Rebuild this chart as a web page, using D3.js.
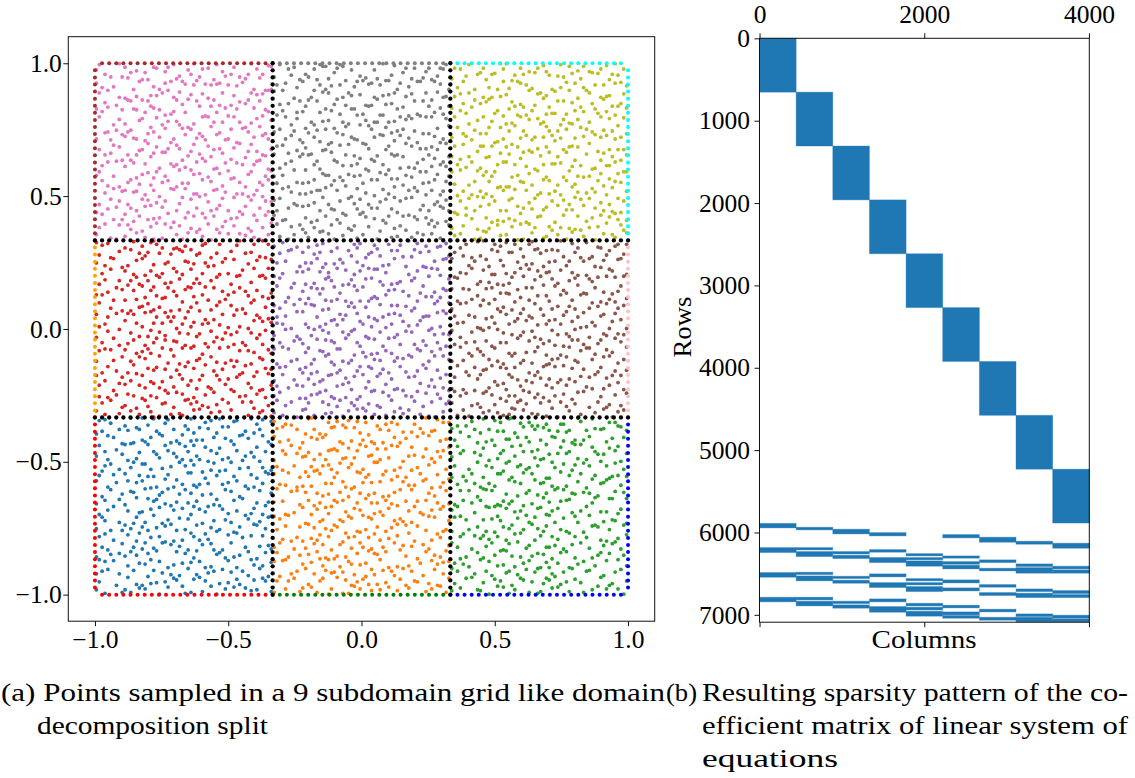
<!DOCTYPE html>
<html>
<head>
<meta charset="utf-8">
<script src="https://cdn.jsdelivr.net/npm/d3@7"></script>
<style>
  body { margin: 0; background: #fff; }
  svg { display: block; }
  text { font-family: "Liberation Serif", "Times New Roman", serif; fill: #000; }
</style>
</head>
<body>
<svg id="fig" width="1135" height="778"></svg>
<script>
// ---------------------------------------------------------------------------
// Collocation points of the 3x3 subdomain split.
// Each subdomain is stored as 20 horizontal bands (bottom to top); every token
// is one point: first char = x cell (0..61 in ALPHA), second = y offset in band.
// ---------------------------------------------------------------------------
const ALPHA = "0123456789abcdefghijklmnopqrstuvwxyzABCDEFGHIJKLMNOPQRSTUVWXYZ";

const ptsBottomLeft = [
"Q7 c2 M8 05 v1 u9 Z3 h6 31 G0 S4 p8 a5 x2 J6 92 E9 m0 U5 f7 B3",
"70 T6 j2 r8 C5 14 O1 y7 b9 K3 o4 W8 e1 s6 H2 X5 g0 A9 l3 N7",
"48 z2 F6 i0 V9 26 n4 R1 d7 L5 q2 Y0 83 w9 D4 k7 P6 t1 I8 03",
"j9 E1 68 Z6 r3 b2 N0 u5 37 W2 h4 A7 p0 S9 x6 19 K8 f5 T3 m7 C0",
"55 y1 H7 c8 O4 v6 02 M2 l9 U0 a3 G5 s8 e4 X7 z9 86 J1 i6 R8",
"t4 40 F0 Y5 n8 Q3 g1 B6 97 w0 L8 d3 k2 V4 23 o9 E7 q6 Z1 I0 h8",
"S6 x9 61 j4 D2 b7 N9 u1 15 m5 W6 C8 f9 r0 A1 P4 38 y5 K7 e0",
"92 H3 l5 z8 G1 s2 c4 T9 o7 04 v3 O6 a8 M0 i2 X4 52 q9 E5 U8 g6",
"27 B0 n0 Y7 w5 R5 e7 k9 L1 81 t6 F3 Z8 h1 J4 33 p4 V2 d0 Q9",
"x0 69 I6 b4 S1 m8 u7 D9 j6 45 W0 C3 r5 10 N4 y9 g3 K1 f2 T7 A6",
"87 o2 G7 s4 U3 a1 z5 H0 k5 M6 36 e9 P8 i8 w3 X0 02 q0 F1 Y4 l7",
"c6 R9 58 v8 B2 n5 J8 t3 L6 h9 20 V7 d5 Z4 x4 O0 93 m2 E3 p9",
"41 W5 y3 j0 Q2 g8 A4 u4 K6 s9 b8 D5 76 r1 T1 e6 I4 l1 08 N8 z1",
"65 C1 o0 H9 f4 X8 k3 S5 w7 a6 G4 p5 14 U1 i3 M3 x7 29 B8 Y6",
"q4 81 E0 v5 d9 R3 n2 Z0 h7 O2 35 t9 J0 c3 L9 y6 g7 F8 57 W3 j1",
"06 T5 m4 A2 u2 V0 b1 K4 s5 P1 42 e3 z6 D0 x1 G9 r9 98 I2 l8 Q6",
"73 f0 N2 y8 H5 k1 Z9 p2 C6 w1 18 S0 a9 M9 o8 E2 31 v7 i9 X1 U6",
"j7 B4 49 t0 W9 d1 L3 n9 c0 R6 q1 67 F7 x3 90 O9 g4 J6 Y2 s3 z4 h2",
"24 e8 K9 m1 V6 A8 u0 P0 b5 T2 l4 86 r6 D7 w6 I9 f6 01 Q4 y2 G2",
"53 k8 Z5 o3 E6 H8 i1 S8 v0 c9 37 M5 x8 N6 p7 a0 U2 16 g9 C4 W7"
];
const ptsBottomMid = [
"H4 o1 93 L7 d8 u6 Y2 02 s9 B5 j0 R3 f2 y4 W9 k6 46 E8 q1 T6 a7",
"78 V0 g5 D3 x1 N5 m9 15 c1 I7 t4 Z8 p6 A1 r0 55 O4 h8 S2 v7 K0",
"20 e3 U8 l5 F6 z2 b9 Q1 86 o5 J9 w0 X3 i7 G1 s2 63 M6 y8 k4 C7",
"n1 P5 07 X6 u3 E0 a4 49 T8 h2 B9 q7 L2 d6 Z7 38 w5 j9 H1 r4 V4",
"94 K3 g0 z6 R8 c5 O0 x9 m3 D8 17 U4 i1 t6 W2 f8 A5 52 l0 Y9 p2",
"S1 e7 71 v3 J5 b2 G8 k0 o9 Q6 28 y1 M4 h6 C3 u8 I0 03 r2 Z5 n6",
"60 W4 q4 E3 a0 L9 x4 d3 T1 s5 84 H6 j5 B1 N0 g7 z8 V8 32 f1 p9",
"i4 Y3 13 O7 w3 D1 m6 F5 l8 R2 c9 96 u0 K8 t1 A6 47 X1 e5 H9 k2",
"59 S8 r6 b0 G3 y5 M1 o2 Z3 h4 25 v9 I5 q8 C9 x7 J2 08 n4 U7 g2",
"z1 B3 T5 j1 f6 40 P2 s7 E7 a8 W6 p3 72 L4 k9 d0 N9 u5 Q0 i8 X9",
"91 F2 c6 m4 V3 y3 O5 g3 35 H0 w8 e0 R6 l6 A3 04 t3 Z2 D6 o6 K5",
"n5 I8 19 x2 U1 b5 M8 q0 S4 h1 66 C0 u4 j3 Y7 87 z4 G5 f4 E1 r9",
"43 L3 d2 v6 W1 p1 J7 a2 T0 k5 s1 B7 81 X6 i5 N3 o7 24 Q8 y6 F9",
"g6 R0 06 t8 H3 e9 C5 w2 Z0 m7 57 l2 D9 x5 P6 c3 K2 92 u7 V5 b8",
"30 M0 j6 q3 A9 f0 Y1 r7 G0 n8 O3 h5 75 z9 S6 d4 I3 14 v1 U9 k1",
"W5 p4 48 i2 E4 y7 T3 b6 J0 s4 L6 89 a5 x6 B2 o3 Q5 01 g8 N7 e2",
"68 F8 t2 H7 c0 X2 m2 R4 u9 k3 32 D4 w7 Z6 l4 A4 95 j2 V1 q5 M6",
"d7 K6 22 o0 C1 z0 S9 f5 G7 r3 54 y2 O8 h7 I1 v4 08 W3 n2 Y5 a1",
"86 Q2 i0 s8 U5 b1 E5 x0 M3 l9 17 J3 p8 g1 T4 e6 B6 39 u2 P7 k8",
"42 N2 c8 w4 R9 j4 Z4 q6 D2 m5 61 H2 t5 V7 d9 A0 y9 X4 o1 F4 05"
];
const ptsBottomRight = [
"k1 S6 04 B8 v3 g9 Y0 m5 37 K2 z7 a4 P9 u1 F3 95 W6 i8 r2 N5 d0",
"79 E4 p6 U2 b3 x8 H7 12 l0 Q9 s4 C1 f7 Z5 o8 J3 58 w2 h5 T0 y6",
"26 L6 j4 A0 q8 e1 V5 n2 G9 c6 R1 83 t5 M7 09 z3 X8 k6 D5 u9",
"i3 O2 61 y0 I4 d7 W9 r8 B5 44 g2 S8 m1 x6 K7 a9 F0 15 Z2 p5 v0",
"97 N1 h9 T6 l3 E8 u6 30 P4 b1 s3 C7 o2 Y4 j9 H1 z0 52 f4 Q7 w5",
"08 U7 c4 A5 x3 k7 M2 q2 G6 n9 71 X1 e8 V9 r5 J8 y3 23 i0 R5 D1",
"b6 S0 48 m8 L4 t1 Z7 g5 B2 o9 86 F9 v6 d2 W3 H5 j1 Q1 35 a3 z5",
"63 P6 s9 C3 u4 i6 O8 x7 E1 k4 01 T3 f0 K0 p3 Y8 l8 N7 w1 96 c1",
"y9 H8 17 n6 D6 e5 V3 r1 M9 h3 A1 q9 54 U4 g8 I1 Z0 38 t7 R2 b4",
"82 G2 j7 x0 W1 o4 J4 d8 S3 v8 29 B7 m3 c9 Q3 z4 X6 f9 L9 05 u7",
"46 E6 k2 U8 p0 a6 N3 i5 T8 s2 F7 y4 73 h0 C5 Z8 l5 O9 w9 g1 11",
"r7 K5 90 D8 b9 j3 Y5 e7 H3 q4 P1 x4 37 M4 n1 V6 u2 A8 67 c8 G4",
"t9 R6 24 o5 I7 f2 S9 k9 B0 w6 X3 d5 58 L0 m7 z2 E2 a1 Q5 85 v5",
"02 W4 g6 s6 F4 y1 O4 i9 T1 b2 J6 l2 U3 x1 C8 43 p7 h6 N0 Z3 76",
"15 D7 u5 H6 c5 V8 n4 r3 A3 j8 M5 e3 Y1 61 q1 K8 z9 G0 o6 99 S5",
"a7 Q0 39 v2 L2 t4 I3 k0 Z9 d1 P8 w3 B9 g3 E9 m6 X0 05 y8 R8 h9",
"80 F1 s1 O1 b5 x9 T5 f8 C6 l7 J9 p1 27 H9 u3 W7 i2 N6 42 o8 V2",
"k5 U6 68 z8 D3 e4 S2 q7 A7 j5 G1 r2 91 M8 c2 Y7 v4 14 K4 n7 H4",
"33 E3 g4 X9 w8 a2 R7 i4 B4 m2 O7 t6 Q6 86 d6 L5 y5 Z5 p9 07 F5",
"50 I9 h4 V4 s0 b8 N8 u0 C2 o3 W0 20 k8 J5 x2 T4 f6 D2 l9 75 r4"
];
const ptsMidLeft = [
"f3 R2 07 H6 y8 m1 V5 33 c7 N0 t4 A9 j6 Z1 q3 E5 84 W7 k0 u2 L8",
"59 D1 a3 S7 o6 x5 G4 h9 T0 r1 26 B3 z7 e0 K6 91 n5 Y3 i2 P7 v9",
"13 M9 w0 d4 U6 l2 I0 s8 F8 b6 X2 g1 42 C5 p7 Q4 u6 75 O3 j4 y2",
"88 Z6 k8 E2 r4 60 J7 a7 V0 o0 L1 h3 z2 R8 w6 16 D4 f6 S3 m3 W1",
"31 G7 c1 q5 N5 t8 A2 g7 Y9 07 x1 H2 j0 T6 e9 O8 u3 95 B7 n0 K3",
"i5 U1 47 s3 F2 b0 X5 l6 C9 y5 P0 d9 72 M7 v7 k3 I4 o4 20 Z4 Q8",
"03 W5 r9 E8 h6 A6 z4 J1 m9 S0 c3 64 V7 p1 G2 f8 L4 w2 98 t0 N3",
"56 R5 a6 x8 D9 j2 O5 q6 15 K9 u8 B1 g4 Y6 e2 H8 i7 37 T3 n8 Z2",
"81 F5 o7 C3 s5 k4 M2 y0 I8 b3 W2 l9 24 U9 v1 d7 P4 h1 Q1 69 r6",
"00 X8 t5 G0 m6 E7 z1 j8 S5 f1 A4 o2 J5 89 c5 N6 w4 V3 i1 L3 47",
"35 T9 g2 q8 B5 e6 R0 x2 H4 u5 12 K1 n6 Z7 a9 O2 y7 D6 k6 W8 s0",
"77 M5 d6 I6 p3 b7 V2 l3 F0 43 j9 C0 w9 Y1 r3 h8 U5 o8 06 Q7 v2",
"19 E1 k1 S9 t1 A0 z9 G6 c0 L6 90 x4 m4 P2 f4 X4 i8 53 N1 q0 g5",
"62 H0 u0 R7 a2 B8 e3 Y4 o5 J3 s7 y6 28 D2 n4 W6 h5 T2 08 l7 K8",
"94 Z0 p6 F6 b9 v4 I2 j3 M1 r2 41 C7 d3 U3 x6 g8 Q2 k7 O6 76 w7",
"10 S2 f0 V9 m8 t6 E4 c4 L0 35 i4 z6 A1 N9 q2 G8 y1 84 X7 e8 o1",
"57 K2 j5 T8 u1 h0 P6 a5 B2 x7 O0 r8 22 W0 d1 H1 n2 Y8 l0 s4 99",
"04 D0 g9 R3 k2 y3 F1 b1 M8 p5 69 U7 w5 I5 e7 Z8 o3 31 C4 v6 J9",
"87 Q5 m5 A5 c9 t9 V1 i6 G5 x9 S6 13 f5 L7 z3 q4 X0 h2 E0 50 u7",
"46 N4 r0 B4 a1 j7 H5 s1 W9 d8 Y5 07 l5 T5 v3 O9 k9 g3 24 C6 n1"
];
const ptsCenter = [
"e2 P3 05 L8 w7 i4 X6 80 o1 D2 t9 a8 S1 G6 k5 z3 U0 32 q7 J4 b9",
"67 F9 m2 Y5 c6 s3 B1 v0 N8 h7 Q2 19 j4 T7 x5 I0 43 n9 A3 r6 Z8",
"28 W1 d5 K4 u3 g8 O9 l1 E4 y9 R7 b1 91 C8 p2 M3 f6 V6 04 k3 t0",
"53 H2 z0 S5 q9 a5 J0 o7 X3 i0 D7 15 w3 P8 e7 Z0 m5 86 G1 r1 U4",
"c3 N6 38 x0 B9 k8 T2 h2 72 L5 s6 F3 v8 Y8 01 j7 A6 d9 W4 g0 p4",
"94 Q9 n3 E0 y5 u7 I7 b6 O2 t2 K1 47 a0 V3 f1 C4 l9 26 R5 x7 m0",
"10 M8 i9 S3 r4 G3 z5 e5 X9 63 H7 q1 d0 Z5 o3 B4 w8 k2 J6 85 U9",
"39 D5 j1 T4 g5 v3 A2 c8 P5 s0 W7 h4 07 L0 y1 O7 m7 F2 57 b3 n7",
"76 Y0 p9 I2 a3 x9 E9 l4 R1 u0 C0 f8 98 N2 k6 Q6 i7 24 z8 V4 t4",
"02 U3 q3 G0 e9 r7 K7 w1 S8 j5 H3 d2 B6 o6 Z3 49 h8 M6 s9 X4 81",
"60 J8 b5 F5 y2 g2 T0 c1 O4 v5 A9 m4 35 D1 i5 W2 u8 P9 k9 16 L3",
"89 Q3 x3 E6 l0 t7 Y7 n6 R4 a9 C3 z1 13 I5 p5 V8 f3 o0 G7 44 S4",
"23 B7 d7 N3 h1 w4 K5 s4 U8 j2 X0 e6 77 H6 r9 M0 q5 Z9 b8 06 F6",
"55 T6 k1 z6 A4 g9 O1 y4 D8 c4 L7 u1 93 i2 W5 m3 V1 40 p1 R6 x1",
"18 J2 f5 C9 n0 s8 E3 l7 Y3 a2 P0 o9 Q8 v7 h5 G4 66 t3 X5 d6 U1",
"71 S9 j8 M4 q0 b0 I3 w6 B3 e1 Z6 k4 27 F0 r5 N7 y7 i6 H1 09",
"84 D3 c7 V7 u5 g4 L1 x8 A7 m8 T8 p6 32 R9 s1 O5 a4 z7 W0 h9 j3",
"46 K0 o4 E2 t5 f9 Y9 l3 G9 b4 Q0 d4 90 U6 v1 X8 i3 C1 n8 14",
"25 N9 r2 H8 k7 y6 B2 w0 S7 e4 J1 q8 69 M1 a6 Z2 g6 P6 x4 58 F8",
"03 I4 h6 W3 m1 c2 V2 s5 E5 z4 R3 u6 82 O6 j9 A0 t1 L9 f4 Y6 37"
];
const ptsMidRight = [
"61 J3 i2 Y8 s4 b5 F7 m9 U0 x1 O5 d7 22 W6 p8 B0 k3 R9 48 g5 u3",
"95 E2 n7 T4 a1 z0 H5 q5 C7 j8 M1 v6 06 X3 f4 P7 o9 S1 73 l0 y8",
"34 Z7 e5 K9 t2 h1 A4 r8 V5 c9 G0 w2 57 I8 m4 Q3 b7 D6 19 u6 k4",
"80 N2 x6 B9 g6 p0 L4 i8 Y1 o5 T6 s9 41 E6 d3 R2 z3 W9 j1 02",
"67 H0 l5 U7 a8 v4 C2 q1 O8 f0 J6 y3 15 S4 n2 F3 k8 X7 93 t7 M5",
"28 G5 b3 Z3 w7 e8 P1 j5 A7 r0 V2 h6 86 K4 x9 D8 u1 Q6 c4 51 m6",
"03 T9 p4 I2 i0 s1 E8 z5 N5 d5 B6 l9 79 W1 o1 Y5 g3 H4 44 y0 R8",
"39 L8 f8 C0 u9 k2 U3 a4 S6 x0 F9 q3 62 M8 t4 O1 m2 Z9 b0 97 J5",
"12 X5 j4 A1 w3 c6 K2 n9 V9 r6 G7 e0 85 Q7 h4 D0 v8 P3 y6 54 I7",
"76 R4 o2 W4 i5 z8 B3 t0 H9 b8 Y3 l3 30 E4 p6 S2 g9 M0 s7 08 F1",
"47 N7 d1 T0 y9 k5 C5 q9 J1 f6 O3 x5 91 U8 m8 Z0 a0 L2 u4 26 G8",
"83 V7 h9 E9 e3 r4 A0 w5 R6 j6 K8 o7 14 I3 c1 X0 s2 D5 n1 65 Q4",
"59 B5 v2 P5 l1 g2 S8 z2 Y6 a6 H2 p2 38 W3 t8 F5 i4 N9 d8 02 M3",
"21 Z4 k9 G2 x7 b2 U9 u7 L9 m0 C8 r2 73 T3 f3 J8 y1 Q0 o5 97 V0",
"64 E0 q6 O6 i9 c5 R1 j0 A8 w9 I9 n4 05 X8 h0 D3 s6 K0 e6 45 W2",
"90 Y9 g0 M6 z6 p9 F4 t5 S9 d2 B1 l8 27 H7 v9 N3 a3 V8 k1 18 P8",
"33 C6 u5 I0 m3 e1 T7 x3 Q9 o8 G3 b6 78 Z1 r7 L0 j2 U5 f1 52 y4",
"09 W8 n5 K6 d0 s3 O0 h7 E1 y5 A6 i1 61 R7 w0 X9 c8 F6 q2 86 M9",
"42 J0 t9 Y4 l6 a2 D1 v5 S3 k6 N1 x8 16 B8 p1 T8 g7 H6 z9 70 e9",
"55 V3 b9 G6 o0 r5 Z5 m5 C9 u0 P2 j7 98 I1 f5 W5 h3 Q1 s8 31 L7"
];
const ptsTopLeft = [
"a4 T3 71 K7 u1 e8 Y6 n2 E0 z9 Q5 h3 06 O7 s6 B4 k1 V1 52 w8 H8",
"38 G2 c2 Z9 q4 l9 M6 x3 S0 b7 I5 t6 87 D8 g0 W4 o8 R3 j5 14 A2",
"93 P9 f7 J1 v5 i3 U2 y7 C5 m5 X8 d1 29 L4 r0 F7 a9 N5 k4 63 T8",
"45 E3 p0 Y2 h8 w1 K3 n7 B0 s3 Q8 e3 77 H9 z6 O2 j9 V6 c6 01 G5",
"10 S5 u8 I7 b0 o4 X4 g6 R9 x6 D3 l2 56 Z3 t1 M8 m9 A9 i5 84 W9",
"68 C1 k6 T1 y2 r7 F6 e5 N2 q8 J4 a6 33 U6 d4 G7 v8 P2 h1 95 z2",
"27 L9 s0 V5 j2 c8 B8 u4 Y8 n5 I1 f3 80 O5 p7 W2 w4 E6 b5 41 Q0",
"03 H5 l7 M0 x9 g4 S7 k0 A5 t9 R4 o2 62 D1 i6 Z8 y4 K8 e0 17 X2",
"79 F0 q6 U9 m1 a3 C9 z8 J7 h6 P5 s5 48 G1 r3 Y0 d7 N7 v2 24 T5",
"90 W6 e6 B2 u0 j4 E4 w5 Q3 c0 L1 n9 36 X5 k8 I8 b6 V0 o9 58 A7",
"12 R0 i9 O9 x0 p3 H3 f1 S8 l5 D6 y8 85 M4 t3 U0 g2 F2 s7 67 Z2",
"53 K4 a7 Y4 q0 v9 B7 h2 T6 r4 J3 d5 04 C3 z5 N0 m6 W8 e4 99 G9",
"31 E8 o6 V8 c4 k2 P6 u6 L5 b2 X0 i0 74 A0 w7 Q7 j7 H1 x5 42 R2",
"86 I3 s4 Z5 n0 f5 F3 y1 O3 g7 S2 p4 19 M9 l8 D9 t0 U7 a1 60 B9",
"25 T9 d8 G4 m7 r5 W0 q2 C0 e7 Y5 v4 97 J9 h4 K0 o1 X7 k9 08 N8",
"72 Q4 j1 H2 w9 b8 E1 s8 R8 u3 A1 i7 40 V7 c7 L2 z7 F8 g8 35 O6",
"49 X9 n6 B5 t7 a0 M3 x4 I6 l3 U4 e2 16 S6 p9 D0 j3 Y9 r1 81 W5",
"07 G6 v6 Z0 k3 y5 P8 f9 K5 o7 C6 d0 63 N4 q9 H7 m0 T0 u9 22 E5",
"94 R7 c9 J5 i1 h9 V3 s2 A4 z0 O4 g1 37 W7 x7 L7 b3 Q2 t5 54 F1",
"18 U3 p5 D4 l4 e1 Y7 w2 G8 r8 M5 a5 89 S9 k5 B3 o0 Z6 y9 02 I0"
];
const ptsTopMid = [
"76 F3 l1 W2 v6 c3 O8 j7 X0 t2 H4 b8 24 Q6 o5 A1 g9 T7 y0 51 M3",
"18 S8 e4 D9 r1 k7 U5 x5 G3 n9 Z7 a2 65 K1 s6 I6 q3 V9 h0 97 B0",
"43 N6 z4 C2 i7 u9 Y1 m3 R5 d0 L8 w6 08 E7 p8 T2 f2 O3 b5 32 J7",
"89 H1 t5 W8 g3 a8 P4 y6 A6 o0 X6 l4 56 S3 c9 F5 v1 Z3 k5 13 Q9",
"27 K7 q7 B3 j0 e2 M8 s1 V3 h8 D6 r9 71 U0 x0 G8 n4 I4 u6 05 Y5",
"92 R1 b2 O5 w3 i9 E2 z0 N9 m6 T6 f6 38 L6 t8 C7 d4 X5 g6 64 W1",
"50 A8 o7 Y6 k2 p1 H9 c5 Q4 y8 J2 a4 14 S5 l7 G0 v4 U8 e8 85 F9",
"33 V4 s2 D4 x8 h5 Z2 u3 K3 b9 P7 q4 79 M1 j3 E9 n1 R7 i3 02 B6",
"69 I1 w0 T3 f9 r4 L2 g0 X8 o4 C5 t6 46 W5 e5 N1 z9 Y3 m8 21 O7",
"07 H6 k9 F7 a7 y1 U2 d7 A5 s5 Q1 l0 94 G5 c6 Z4 p6 S6 u2 58 J4",
"81 D2 i2 V2 q8 n7 M6 x3 E6 h1 Y9 b4 37 R3 v9 K9 w8 T5 j8 16 P3",
"44 X4 o9 B9 t3 e6 I8 z6 O0 k0 G2 r6 68 U7 g1 L5 a0 W0 s4 93 C8",
"25 N3 m1 Q0 y5 c1 S0 p8 H3 x9 D7 i5 02 Z9 l6 F1 f4 V6 b6 73 J5",
"60 T9 u0 A3 h4 w5 K6 j5 R9 o3 E3 d3 49 M7 z3 Y7 q1 I9 e0 87 G4",
"11 O2 r8 W9 n2 a5 C1 t1 L0 s8 U4 g4 84 B1 v2 X2 k6 P0 i8 36 H8",
"97 F4 l3 Z1 c8 x1 Q7 y2 N7 m9 J0 b1 23 S1 p2 D3 w2 T8 f7 54 A9",
"39 K2 e9 G6 u4 h7 V7 o1 E4 j6 X1 q6 70 R6 d1 M5 z1 C3 r3 08 Y2",
"82 I7 k4 U9 i0 t9 B5 s3 W6 a9 H0 n5 15 O9 x6 L3 g5 Z0 y7 47 P9",
"04 Q3 v0 D0 f1 c4 T1 l9 A2 w3 M2 p0 66 E0 b7 V5 j2 J9 u5 91 F6",
"53 S4 n8 X3 g8 r2 G7 z2 K4 e3 N4 i6 28 Y8 o6 C9 h6 W4 m4 75 R0"
];
const ptsTopRight = [
"37 U6 h5 E1 x4 n0 Z8 c9 K4 s8 B6 w2 81 O0 j6 V3 p1 G9 a2 15 R7",
"92 J1 t4 X7 d3 r8 C4 l5 S9 g7 H2 z1 46 M4 b0 Y1 y5 F3 o8 03 P5",
"58 Q8 e0 A0 u6 k4 W3 i1 D8 v7 N5 c5 29 T6 m2 I7 q0 Z2 g2 74 L1",
"11 G4 s5 O6 a8 p6 V0 x7 R3 h3 B9 o0 83 E4 j3 X1 n8 K9 w4 56 U2",
"67 Y4 l7 H8 f4 z4 M7 e9 T0 r2 F0 b8 34 W7 t7 D5 k5 Q2 d0 99 J6",
"20 S1 c2 I4 y2 q6 A5 m7 Z5 u1 N8 i6 71 C1 g9 U9 v3 L3 a5 45 O4",
"86 E7 o6 V6 j0 w8 G0 d6 P7 k0 X5 s2 13 H3 y7 R1 h0 B2 p5 62 T9",
"39 M2 b3 Z7 x1 e2 K1 r5 D1 n3 Y7 f7 98 Q5 l1 I2 u8 W5 c7 07 F8",
"52 A6 i8 T4 g5 t0 O1 z6 C7 q3 S4 a1 25 N0 m5 V8 w5 J4 j8 78 G3",
"04 X0 v5 H0 p9 o2 E9 h8 R8 c3 U4 y9 64 L7 k7 B4 d4 Z6 s9 31 Q0",
"90 F5 r1 W2 a6 n5 M9 j5 Y2 x5 I5 e6 48 T2 u3 G6 b6 P0 l8 16 D2",
"73 O9 g1 C5 s3 z8 K7 q8 V4 i4 Q6 t6 06 A2 f0 S8 o5 H5 w6 57 X6",
"27 N2 y3 Z0 h7 d7 E5 p3 L5 k3 B3 m9 84 W9 c0 J7 x8 R4 a0 40 U3",
"61 I6 u7 D6 l2 b9 T7 w3 G1 o9 Y8 j1 19 M3 v1 F2 e4 Q9 r6 95 C0",
"09 V1 n1 S5 g6 x2 A3 s6 O8 f3 H6 z3 53 E2 q1 Z9 k8 K5 i0 36 P3",
"44 R9 t2 B7 d9 p0 X4 m1 J0 y0 U1 c6 70 N4 l6 G5 a4 W1 o3 88 D7",
"12 Q1 h2 F9 w0 r9 I0 e1 S2 b1 M6 v6 35 Y5 j4 A8 x3 T3 u5 66 L9",
"80 H7 k1 Z4 g0 i9 C2 o7 V7 q5 K2 d2 22 O5 z0 E8 s1 R5 n9 49 X8",
"55 G8 a9 D4 t9 l0 W6 y6 P8 m6 B5 f8 97 T1 e7 J2 p7 U7 c1 02 N9",
"33 S7 x0 I1 b4 u4 Y3 j9 F6 h9 Q3 r0 68 V9 o4 M0 w7 C8 i3 14 K6"
];

// Subdomains in order: bottom row (left→right), middle row, top row
const subdomainPoints = [ptsBottomLeft, ptsBottomMid, ptsBottomRight,
                         ptsMidLeft, ptsCenter, ptsMidRight,
                         ptsTopLeft, ptsTopMid, ptsTopRight];
const subdomainColors = ["#1f77b4", "#ff7f0e", "#2ca02c", "#d62728", "#9467bd",
                         "#8c564b", "#e377c2", "#7f7f7f", "#bcbd22"];

// Boundary / interface nodes: 76 equally spaced nodes per side of [-1,1]^2
const nodesPerSide = 76;
const interfaceLines = [-1 / 3, 1 / 3];
// Dirichlet boundary colours per outer edge, listed along the edge (low → high)
const edgeColors = {
  bottom: ["#ff0000", "#008000", "#0000ff"],   // red, green, blue
  right:  ["#0000ff", "#ffc0cb", "#00ffff"],   // blue, pink, cyan
  top:    ["#a52a2a", "#808080", "#00ffff"],   // brown, gray, cyan
  left:   ["#ff0000", "#ffa500", "#a52a2a"]    // red, orange, brown
};
const xTicksA = [-1.0, -0.5, 0.0, 0.5, 1.0];
const yTicksA = [-1.0, -0.5, 0.0, 0.5, 1.0];

// ---------------------------------------------------------------------------
// Sparsity pattern of the coefficient matrix
// ---------------------------------------------------------------------------
const nRows = 7090;
const nCols = 4005;
const colBlockStart = [0, 445, 890, 1335, 1780, 2225, 2670, 3115, 3560];
const colBlockSize = 445;
// diagonal (collocation) blocks: [firstRow, endRow) per subdomain
const diagRows = [[0, 654], [654, 1308], [1308, 1962], [1962, 2616], [2616, 3270],
                  [3270, 3924], [3924, 4578], [4578, 5232], [5232, 5886]];
// interface coupling rows: [column block, firstRow, endRow]
const couplingRows = [
  [0,5890,5945],[1,5937,5969],[2,5961,6018],[3,6002,6042],[5,6026,6066],[6,6058,6119],[7,6107,6143],[8,6131,6192],
  [0,6184,6244],[1,6184,6212],[1,6232,6293],[2,6232,6261],[2,6277,6317],[3,6208,6240],[3,6305,6366],
  [4,6257,6285],[4,6305,6333],[4,6346,6410],[5,6285,6313],[5,6354,6386],[5,6398,6443],
  [6,6333,6366],[6,6435,6467],[7,6382,6414],[7,6427,6495],[8,6410,6443],[8,6455,6495],
  [0,6487,6544],[1,6483,6511],[1,6528,6588],[2,6532,6560],[2,6580,6617],[3,6503,6540],[3,6609,6669],
  [4,6560,6588],[4,6609,6637],[4,6657,6718],[5,6576,6613],[5,6673,6710],
  [6,6633,6665],[6,6730,6766],[7,6686,6718],[7,6738,6791],[8,6706,6742],[8,6754,6791],
  [0,6787,6843],[1,6787,6819],[1,6835,6892],[2,6835,6864],[2,6880,6920],[3,6807,6843],[3,6900,6969],
  [4,6860,6892],[4,6908,6941],[4,6957,7017],[5,6884,6916],[5,6965,7001],[5,7009,7042],
  [6,6932,6965],[6,7030,7066],[7,6989,7021],[7,7030,7086],[8,7005,7042],[8,7050,7086]
];
const colTicks = [0, 2000, 4000];
const rowTicks = [0, 1000, 2000, 3000, 4000, 5000, 6000, 7000];

// ---------------------------------------------------------------------------
const svg = d3.select("#fig");
const TICK_FONT = 25.5;
const FONT = 25;

// ======================= (a) scatter of sampled points ======================
const xA = d3.scaleLinear().domain([-1.1, 1.1]).range([68.3, 654.7]);
const yA = d3.scaleLinear().domain([-1.1, 1.1]).range([621.2, 36.7]);
const gA = svg.append("g");

const interior = [];
subdomainPoints.forEach((bands, r) => {
  const x0 = -1 + (r % 3) * 2 / 3, y0 = -1 + Math.floor(r / 3) * 2 / 3;
  bands.forEach((line, b) => {
    line.split(" ").forEach(tok => {
      const u = (ALPHA.indexOf(tok[0]) + 0.5) / ALPHA.length;
      const v = (b + (+tok[1] + 0.5) / 10) / bands.length;
      interior.push({ x: x0 + u * 2 / 3, y: y0 + v * 2 / 3, c: subdomainColors[r] });
    });
  });
});

gA.append("g").selectAll("circle").data(interior).join("circle")
  .attr("cx", d => xA(d.x)).attr("cy", d => yA(d.y)).attr("r", 1.9)
  .attr("fill", d => d.c);

const step = 2 / (nodesPerSide - 1);
const boundary = [];
for (let k = 1; k < nodesPerSide - 1; k++) {
  const t = -1 + k * step;
  const seg = t < -1 / 3 - 1e-9 ? 0 : (t < 1 / 3 - 1e-9 ? 1 : 2);
  boundary.push({ x: t, y: -1, c: edgeColors.bottom[seg] });
  boundary.push({ x: t, y: 1, c: edgeColors.top[seg] });
  boundary.push({ x: -1, y: t, c: edgeColors.left[seg] });
  boundary.push({ x: 1, y: t, c: edgeColors.right[seg] });
}
gA.append("g").selectAll("circle").data(boundary).join("circle")
  .attr("cx", d => xA(d.x)).attr("cy", d => yA(d.y)).attr("r", 2)
  .attr("fill", d => d.c);

const iface = [];
for (let k = 0; k < nodesPerSide; k++) {
  const t = -1 + k * step;
  interfaceLines.forEach(s => { iface.push({ x: s, y: t }); iface.push({ x: t, y: s }); });
}
gA.append("g").selectAll("circle").data(iface).join("circle")
  .attr("cx", d => xA(d.x)).attr("cy", d => yA(d.y)).attr("r", 2.15)
  .attr("fill", "#000");

gA.append("rect").attr("x", xA(-1.1)).attr("y", yA(1.1))
  .attr("width", xA(1.1) - xA(-1.1)).attr("height", yA(-1.1) - yA(1.1))
  .attr("fill", "none").attr("stroke", "#111").attr("stroke-width", 1);

const fmtA = d3.format(".1f");
gA.append("g").attr("transform", `translate(0,${yA(-1.1)})`)
  .call(d3.axisBottom(xA).tickValues(xTicksA).tickFormat(fmtA).tickSize(5).tickPadding(3.5));
gA.append("g").attr("transform", `translate(${xA(-1.1)},0)`)
  .call(d3.axisLeft(yA).tickValues(yTicksA).tickFormat(fmtA).tickSize(5).tickPadding(1.5));

// ======================= (b) sparsity pattern ===============================
const xB = d3.scaleLinear().domain([-0.5, nCols - 0.5]).range([759.5, 1089.3]);
const yB = d3.scaleLinear().domain([-0.5, nRows - 0.5]).range([38.3, 622.2]);
const gB = svg.append("g");
const blue = "#1f77b4";

const cells = diagRows.map((r, i) => ({ c0: colBlockStart[i], c1: colBlockStart[i] + colBlockSize, r0: r[0], r1: r[1] }))
  .concat(couplingRows.map(d => ({ c0: colBlockStart[d[0]], c1: colBlockStart[d[0]] + colBlockSize, r0: d[1], r1: d[2] })));

gB.append("g").selectAll("rect").data(cells).join("rect")
  .attr("x", d => xB(d.c0 - 0.5)).attr("y", d => yB(d.r0 - 0.5))
  .attr("width", d => xB(d.c1 - 0.5) - xB(d.c0 - 0.5))
  .attr("height", d => yB(d.r1 - 0.5) - yB(d.r0 - 0.5))
  .attr("fill", blue).attr("stroke", "rgba(31,119,180,0.35)").attr("stroke-width", 1);

gB.append("rect").attr("x", xB(-0.5)).attr("y", yB(-0.5))
  .attr("width", xB(nCols - 0.5) - xB(-0.5)).attr("height", yB(nRows - 0.5) - yB(-0.5))
  .attr("fill", "none").attr("stroke", "#111").attr("stroke-width", 1);

gB.append("g").attr("transform", `translate(0,${yB(-0.5)})`)
  .call(d3.axisTop(xB).tickValues(colTicks).tickFormat(d3.format("d")).tickSize(5).tickPadding(10));
gB.append("g").attr("transform", `translate(0,${yB(nRows - 0.5)})`)
  .call(d3.axisBottom(xB).tickValues(colTicks).tickFormat("").tickSize(5));
gB.append("g").attr("transform", `translate(${xB(-0.5)},0)`)
  .call(d3.axisLeft(yB).tickValues(rowTicks).tickFormat(d3.format("d")).tickSize(5).tickPadding(4.5));

// common axis styling
svg.selectAll(".domain").remove();
svg.selectAll(".tick line").attr("stroke", "#111").attr("stroke-width", 1);
svg.selectAll(".tick text").attr("font-family", null).style("font-size", TICK_FONT + "px").attr("fill", "#000");

gB.append("text").attr("transform", "translate(691,327) rotate(-90)")
  .attr("text-anchor", "middle").attr("textLength", 61).attr("lengthAdjust", "spacingAndGlyphs")
  .style("font-size", FONT + "px").text("Rows");
gB.append("text").attr("x", 924).attr("y", 648)
  .attr("text-anchor", "middle").attr("textLength", 105).attr("lengthAdjust", "spacingAndGlyphs")
  .style("font-size", FONT + "px").text("Columns");

// ======================= captions ===========================================
const captions = [
  { x: 1,   y: 701, w: 664, t: "(a) Points sampled in a 9 subdomain grid like domain" },
  { x: 666, y: 701, w: 31,  t: "(b)" },
  { x: 702, y: 701, w: 426, t: "Resulting sparsity pattern of the co-" },
  { x: 37,  y: 734, w: 231, t: "decomposition split" },
  { x: 702, y: 734, w: 426, t: "efficient matrix of linear system of" },
  { x: 702, y: 767, w: 136, t: "equations" }
];
svg.append("g").selectAll("text").data(captions).join("text")
  .attr("x", d => d.x).attr("y", d => d.y)
  .attr("textLength", d => d.w).attr("lengthAdjust", "spacingAndGlyphs")
  .style("font-size", FONT + "px").text(d => d.t);
</script>
</body>
</html>
